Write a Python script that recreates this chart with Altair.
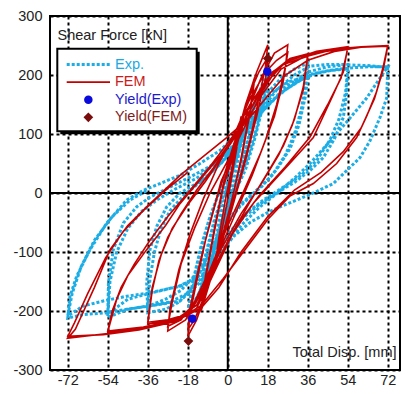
import altair as alt
import pandas as pd

# ---------------- data ----------------
x_ticks = [-72, -54, -36, -18, 0, 18, 36, 54, 72]
y_ticks = [-300, -200, -100, 0, 100, 200, 300]

# Experimental hysteresis path: displacement [mm], shear force [kN]
exp_disp = [
    0,
    2, 4, 6, 4, 1, -2, -4, -6, -4, -1,
    2, 5, 8, 12, 10, 7, 3, -1, -4, -8, -12, -10, -7, -3,
    1, 5, 9, 12, 10, 6, 2, -3, -8, -12, -10, -6, -2,
    2, 6, 10, 14, 18, 16, 13, 9, 5, 0, -5, -10, -14, -18, -16, -13, -9, -5,
    0, 5, 10, 14, 18, 16, 12, 8, 3, -3, -8, -13, -18, -16, -12, -8, -4,
    0, 6, 12, 18, 24, 30, 36, 35, 33, 30, 26, 20, 13, 5, -3, -10, -16, -22, -28, -36,
    -36.5, -35, -32, -27.5, -21.5,
    -10, -2, 6, 14, 20, 27, 36, 35, 32, 28, 22, 15, 7, -1, -8, -15, -21, -28, -36,
    -35, -33, -30, -26, -20,
    -12, -3, 6, 14, 22, 30, 37, 45, 54, 53.5, 52, 48, 43, 37, 30, 22, 14, 6, -2, -10, -18, -26,
    -35, -45, -54, -53.7, -51.5, -47, -41, -35, -26, -17,
    -8, 0, 8, 16, 24, 32, 40, 47, 54, 53, 50, 46, 40, 33, 25, 16, 8, 0, -8, -15, -22, -35,
    -45, -54, -53, -50, -45, -39, -32, -24,
    -14, -4, 6, 16, 26, 36, 45, 54, 63, 72, 71.5, 68.5, 64, 59.5, 53.5, 47.5, 38.5, 31, 23.5,
    17.5, 10, 2.5, -5, -12, -21.5, -35, -45.5, -54.5, -65, -72, -71, -68, -62, -54.5, -45.5,
    -38, -30.5, -21.5, -12.5, -3.5, 2.5,
    10, 18, 26, 37, 46, 55, 64, 72, 68.5, 62.5, 55, 47.5, 37, 30, 22, 14, 6, -2, -10, -21.5,
    -35, -45.5, -56, -65, -72, -70, -66, -60, -52, -44, -36,
]
exp_force = [
    0,
    35, 65, 90, 45, -5, -40, -70, -95, -50, 0,
    35, 75, 110, 150, 105, 60, 10, -35, -75, -120, -160, -115, -65, -15,
    25, 70, 115, 145, 100, 45, 0, -50, -115, -155, -105, -45, 0,
    40, 90, 130, 170, 205, 160, 110, 60, 20, -30, -85, -140, -180, -212, -165, -110, -55, -10,
    35, 85, 130, 165, 195, 150, 90, 40, 0, -60, -120, -170, -205, -155, -90, -40, 0,
    35, 85, 130, 170, 195, 210, 220, 185, 140, 100, 65, 30, 5, -25, -65, -115, -160, -185, -197, -203,
    -152, -96, -57, -23.5, 0,
    25, 55, 95, 140, 170, 188, 198, 165, 115, 75, 40, 10, -15, -50, -95, -140, -165, -180, -192,
    -145, -100, -60, -30, -5,
    20, 50, 90, 135, 175, 200, 215, 218, 218, 170, 128, 92, 60, 38, 18, 0, -20, -45, -85, -135, -170, -185,
    -191, -197, -211, -152, -96, -51, -23.5, -7, 10, 27,
    45, 70, 100, 140, 170, 190, 203, 208, 210, 170, 125, 90, 55, 30, 10, -12, -35, -70, -115, -145, -158, -170,
    -180, -205, -150, -100, -60, -32, -12, 6,
    25, 55, 95, 140, 180, 205, 214, 217, 216, 213, 161, 128, 88.5, 60, 38, 16, 0, -12, -23.5,
    -34, -50, -74, -110, -150, -183, -191.5, -197, -203, -206, -212, -175, -141, -96, -51, -12,
    4.5, 16, 30, 50, 72, 94,
    120, 150, 175, 201, 208, 212, 214, 214, 195, 161, 127, 94, 50, 25, -1, -25, -55, -95, -135, -158,
    -169, -175, -183, -191.5, -208, -170, -125, -80, -40, -12, 5,
]

# FEM hysteresis path
fem_disp = [
    0,
    3, 6, 4, 1, -2, -6, -4, -1,
    2, 6, 9, 12, 10, 6, 2, -3, -8, -12, -10, -6, -2,
    3, 7, 12, 10, 6, 1, -4, -8, -12, -10, -6, -2,
    3, 8, 13, 18, 17, 14, 10, 5, 0, -5, -10, -14, -18, -17, -14, -10, -5, 0,
    5, 10, 14, 18, 17, 13, 8, 2, -4, -10, -15, -18, -17, -13, -8, -3,
    3, 9, 15, 21, 27, 26, 22, 17, 11, 4, -4, -12, -19, -27, -26, -22, -17, -11, -4,
    3, 10, 17, 22, 27, 25, 21, 15, 8, 0, -8, -15, -21, -27, -25, -21, -15, -8,
    0, 8, 16, 22, 28, 36, 34, 30, 25, 18, 10, 1, -8, -15, -22, -29, -36, -34, -31, -27, -21, -14, -6, 2,
    10, 18, 25, 36, 34, 29, 23, 15, 6, -3, -11, -18, -27, -36, -34, -30, -25, -18, -10, -2,
    6, 14, 20, 28, 40, 54, 52, 47.5, 38.5, 25, 12, 2, -8, -14, -22, -36, -45, -54, -53.7, -50, -45,
    -36.5, -28, -21.5, -13, -3, 8,
    16, 24, 34, 44, 54, 51, 45, 37, 26, 14, 4, -6, -14, -24, -38, -54, -52, -48, -42, -35, -27, -18, -8, 2,
    10, 18, 26, 36, 48, 60, 72, 70, 67, 62.5, 58, 49, 38.5, 28, 18, 8, -2, -12, -22, -36, -54, -72,
    -68.6, -60, -53, -45, -36.5, -21.5, -10, -0.5,
    10, 18, 26, 36, 48, 60, 72, 70, 66, 60, 52, 42, 30, 18, 6, -4, -12, -24, -40, -56, -72,
    -69, -63, -55, -47, -38, -28, -18,
]
fem_force = [
    0,
    70, 130, 75, 10, -50, -130, -75, -10,
    45, 110, 160, 195, 140, 60, -10, -80, -150, -200, -145, -65, 10,
    70, 130, 190, 135, 55, -25, -95, -150, -195, -140, -60, 15,
    80, 150, 205, 251, 215, 160, 90, 20, -45, -110, -170, -215, -243, -205, -150, -80, -10, 50,
    110, 170, 205, 230, 195, 130, 55, -25, -100, -170, -215, -232, -195, -125, -50, 20,
    70, 140, 195, 237, 251, 215, 150, 90, 30, -30, -100, -170, -215, -234, -195, -130, -70, -10, 50,
    100, 160, 205, 225, 238, 190, 130, 70, 10, -55, -130, -185, -215, -226, -185, -120, -60, 0,
    55, 115, 175, 210, 228, 236, 180, 125, 80, 35, -15, -75, -140, -190, -212, -218, -222, -165, -115, -75, -35, 5, 45, 90,
    140, 190, 218, 232, 175, 115, 65, 15, -35, -95, -160, -205, -215, -219, -160, -105, -60, -20, 20, 65,
    110, 170, 205, 225, 240, 248, 205, 167, 94, 38, -15, -70, -150, -195, -215, -226, -232, -236, -231, -180, -140,
    -96, -55, -18, 20, 65, 120,
    170, 210, 230, 240, 245, 195, 150, 95, 45, -5, -55, -130, -190, -216, -227, -234, -200, -160, -120, -80, -40, 0, 45, 95,
    150, 195, 222, 235, 244, 248, 250, 215, 172, 130, 94, 50, 16, -5, -45, -95, -145, -191, -214, -227, -238, -246,
    -231, -160, -96, -55, -23.5, 30, 65, 94,
    128, 165, 200, 225, 240, 247, 249, 210, 160, 110, 70, 35, 5, -40, -100, -160, -195, -218, -232, -240, -243,
    -220, -170, -110, -65, -30, 5, 35,
]

yield_exp_disp = [17.8, -15.9]
yield_exp_force = [206, -213]
yield_fem_disp = [18.0, -17.7]
yield_fem_force = [228, -251]

legend_labels = ["Exp.", "FEM", "Yield(Exp)", "Yield(FEM)"]
legend_text_colors = ["#1BA9E3", "#CC1C1C", "#1C1CCC", "#7E1C1C"]

y_title = "Shear Force [kN]"
x_title = "Total Disp. [mm]"

# ---------------- styles ----------------
FONT = "Liberation Sans"
EXP_C = "#1BADE6"
FEM_C = "#C40000"
YEXP_C = "#0A0ADC"
YFEM_C = "#7B0C0C"
FS = 14.5
W, H = 350, 354

exp_df = pd.DataFrame({"d": exp_disp, "f": exp_force, "i": range(len(exp_disp))})
fem_df = pd.DataFrame({"d": fem_disp, "f": fem_force, "i": range(len(fem_disp))})
yexp_df = pd.DataFrame({"d": yield_exp_disp, "f": yield_exp_force})
yfem_df = pd.DataFrame({"d": yield_fem_disp, "f": yield_fem_force})
one = pd.DataFrame({"k": [0]})

xs = alt.Scale(domain=[-80, 77.5], nice=False, zero=False)
ys = alt.Scale(domain=[-300, 300], nice=False, zero=False)

xax = alt.Axis(values=x_ticks, title=None, grid=True, gridDash=[3, 3], gridColor="black",
               gridWidth=2, gridOpacity=1, ticks=False, domain=False, labelFont=FONT,
               labelFontSize=FS, labelColor="#222222", labelPadding=3,
               labelExpr="'' + datum.value")
yax = alt.Axis(values=y_ticks, title=None, grid=True, gridDash=[3, 3], gridColor="black",
               gridWidth=2, gridOpacity=1, ticks=False, domain=False, labelFont=FONT,
               labelFontSize=FS, labelColor="#222222", labelPadding=8,
               labelExpr="'' + datum.value")

base_axes = alt.Chart(exp_df).mark_line(opacity=0).encode(
    x=alt.X("d:Q", scale=xs, axis=xax),
    y=alt.Y("f:Q", scale=ys, axis=yax),
    order="i:Q",
)

zero_x = alt.Chart(pd.DataFrame({"v": [0]})).mark_rule(color="black", strokeWidth=2).encode(
    x=alt.X("v:Q", scale=xs))
zero_y = alt.Chart(pd.DataFrame({"v": [0]})).mark_rule(color="black", strokeWidth=2).encode(
    y=alt.Y("v:Q", scale=ys))

exp_line = alt.Chart(exp_df).mark_line(color=EXP_C, strokeWidth=3, strokeDash=[3, 2],
                                       strokeCap="butt").encode(
    x=alt.X("d:Q", scale=xs), y=alt.Y("f:Q", scale=ys), order="i:Q")
fem_line = alt.Chart(fem_df).mark_line(color=FEM_C, strokeWidth=1.6).encode(
    x=alt.X("d:Q", scale=xs), y=alt.Y("f:Q", scale=ys), order="i:Q")

yexp_pts = alt.Chart(yexp_df).mark_point(shape="circle", filled=True, size=72, color=YEXP_C,
                                         opacity=1).encode(
    x=alt.X("d:Q", scale=xs), y=alt.Y("f:Q", scale=ys))
yfem_pts = alt.Chart(yfem_df).mark_point(shape="diamond", filled=True, size=95, color=YFEM_C,
                                         opacity=1).encode(
    x=alt.X("d:Q", scale=xs), y=alt.Y("f:Q", scale=ys))

# titles inside the plot
ytitle = alt.Chart(one).mark_text(text=y_title, font=FONT, fontSize=FS, color="#222222",
                                  align="left", baseline="alphabetic").encode(
    x=alt.value(7.5), y=alt.value(23.5))
xtitle = alt.Chart(one).mark_text(text=x_title, font=FONT, fontSize=FS, color="#222222",
                                  align="right", baseline="alphabetic").encode(
    x=alt.value(346.5), y=alt.value(H - 13.5))

# legend box
LX0, LX1, LY0, LY1 = 7.3, 146.7, 32.7, 115.3
shadow = alt.Chart(one).mark_rect(color="black").encode(
    x=alt.value(LX0 + 3), x2=alt.value(LX1 + 3), y=alt.value(LY0 + 3), y2=alt.value(LY1 + 3))
box = alt.Chart(one).mark_rect(fill="white", stroke="black", strokeWidth=2).encode(
    x=alt.value(LX0), x2=alt.value(LX1), y=alt.value(LY0), y2=alt.value(LY1))

ROW0, ROWH = 48.5, 17.6
SYM_X0, SYM_X1, TXT_X = 16.7, 60.0, 65.0
leg_layers = [shadow, box]
leg_layers.append(alt.Chart(one).mark_rule(color=EXP_C, strokeWidth=3, strokeDash=[3, 2],
                                           strokeCap="butt").encode(
    x=alt.value(SYM_X0), x2=alt.value(SYM_X1), y=alt.value(ROW0)))
leg_layers.append(alt.Chart(one).mark_rule(color=FEM_C, strokeWidth=1.8).encode(
    x=alt.value(SYM_X0), x2=alt.value(SYM_X1), y=alt.value(ROW0 + ROWH)))
leg_layers.append(alt.Chart(one).mark_point(shape="circle", filled=True, size=72, color=YEXP_C,
                                            opacity=1).encode(
    x=alt.value((SYM_X0 + SYM_X1) / 2), y=alt.value(ROW0 + 2 * ROWH)))
leg_layers.append(alt.Chart(one).mark_point(shape="diamond", filled=True, size=95, color=YFEM_C,
                                            opacity=1).encode(
    x=alt.value((SYM_X0 + SYM_X1) / 2), y=alt.value(ROW0 + 3 * ROWH)))
for i, (lab, col) in enumerate(zip(legend_labels, legend_text_colors)):
    leg_layers.append(alt.Chart(one).mark_text(text=lab, font=FONT, fontSize=FS, color=col,
                                               align="left", baseline="middle").encode(
        x=alt.value(TXT_X), y=alt.value(ROW0 + i * ROWH)))

chart = alt.layer(
    base_axes, zero_x, zero_y, exp_line, fem_line, yexp_pts, yfem_pts, ytitle, xtitle, *leg_layers
).properties(
    width=W, height=H,
    padding={"left": 42, "top": 8, "right": 1, "bottom": 16},
    autosize=alt.AutoSizeParams(type="none"),
    background="white",
).configure_view(stroke="black", strokeWidth=2)

chart.save("out.html", embed_options={"renderer": "svg", "actions": False})
